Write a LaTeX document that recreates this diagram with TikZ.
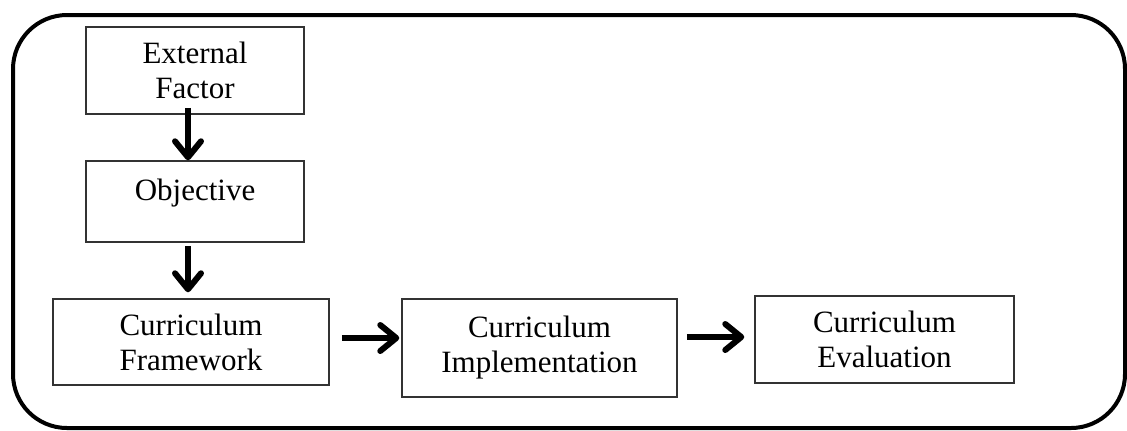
\documentclass[tikz,border=0pt]{standalone}
\usepackage{fontspec}
\setmainfont{Liberation Serif}
\usetikzlibrary{arrows.meta}
\begin{document}
\begin{tikzpicture}[x=0.5pt,y=-0.5pt,
  box/.style={draw=black!80,line width=0.75pt,align=center,inner sep=0pt,
    font=\fontsize{15.5pt}{17.5pt}\selectfont},
  flow/.style={-{Straight Barb[length=8pt,width=13pt,round]},line width=3pt}]
\useasboundingbox (0,0) rectangle (1127,430);
\draw[line width=2pt,rounded corners=27pt] (13,15) rectangle (1125,428);
\node[box,minimum width=109pt,minimum height=43.5pt] (ext) at (195,70.5) {External\\Factor};
\node[box,minimum width=109pt,minimum height=40.5pt,text depth=12pt] (obj) at (195,201.5) {Objective};
\node[box,minimum width=138pt,minimum height=43pt] (frame) at (191,342) {Curriculum\\Framework};
\node[box,minimum width=137.5pt,minimum height=49pt] (impl) at (539.5,348) {Curriculum\\Implementation};
\node[box,minimum width=129.5pt,minimum height=43.5pt] (eval) at (884.5,339.5) {Curriculum\\Evaluation};
\draw[flow] ([xshift=-3.5pt,yshift=3.5pt]ext.south) -- ([xshift=-3.5pt]obj.north);
\draw[flow] ([xshift=-3.5pt,yshift=-1.5pt]obj.south) -- ([xshift=-1.5pt,yshift=3pt]frame.north);
\draw[flow] ([xshift=6pt,yshift=2pt]frame.east) -- ([xshift=-1pt,yshift=5pt]impl.west);
\draw[flow] ([xshift=4.5pt,yshift=5.5pt]impl.east) -- ([xshift=-5pt,yshift=1.25pt]eval.west);
\end{tikzpicture}
\end{document}
